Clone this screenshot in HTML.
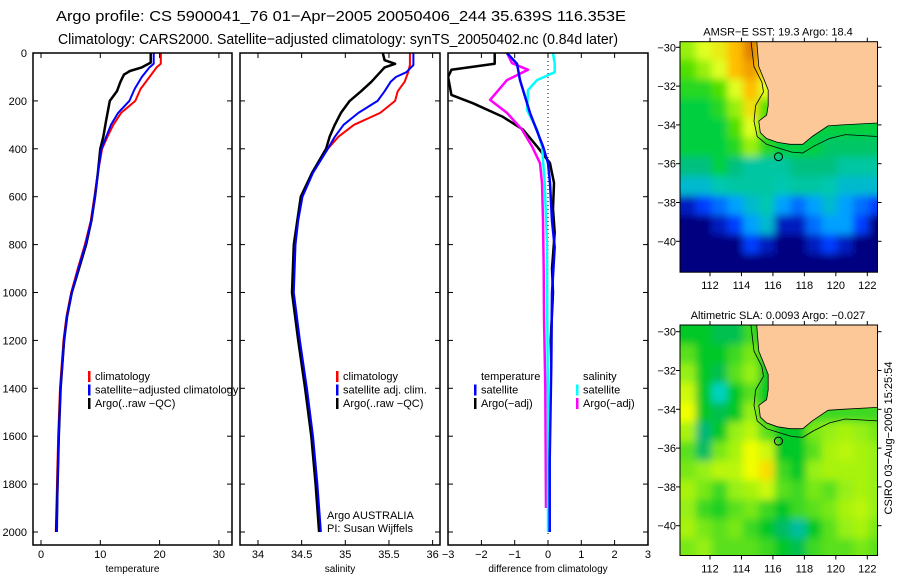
<!DOCTYPE html>
<html><head><meta charset="utf-8"><style>
html,body{margin:0;padding:0;background:#fff;}
svg{display:block;font-family:"Liberation Sans",sans-serif;}
</style></head><body>
<svg id="chart" width="900" height="580" viewBox="0 0 900 580" xmlns="http://www.w3.org/2000/svg">
<defs><filter id="soft" x="-5%" y="-5%" width="110%" height="110%"><feGaussianBlur stdDeviation="4"/></filter></defs>
<text x="56" y="21" font-size="15" textLength="570" lengthAdjust="spacingAndGlyphs">Argo profile: CS 5900041_76 01−Apr−2005 20050406_244 35.639S 116.353E</text>
<text x="58" y="44" font-size="15" textLength="560" lengthAdjust="spacingAndGlyphs">Climatology: CARS2000. Satellite−adjusted climatology: synTS_20050402.nc (0.84d later)</text>
<g id="root"></g>
</svg>
<script>
// ---------- profile data ----------
const tempDepth = [0,45,60,100,150,200,250,300,350,400,500,600,700,800,900,1000,1100,1200,1400,1600,1800,2000];
const tempClim  = [20.2,20.2,19.5,18.3,16.8,15.9,13.5,12.2,11.2,10.3,9.6,9.0,8.4,7.4,6.2,5.1,4.3,3.8,3.2,2.9,2.7,2.5];
const tempSat   = [19.0,19.0,18.3,17.0,15.8,14.9,13.0,11.8,11.0,10.2,9.6,9.1,8.5,7.5,6.3,5.2,4.4,3.9,3.3,3.0,2.8,2.7];
const argoTDepth= [0,40,60,75,90,120,160,200,280,350,400,500,600,700,800,900,1000,1100,1200,1400,1600,1800,2000];
const argoTemp  = [18.5,18.5,17.0,15.0,14.0,13.4,12.8,11.6,11.0,10.5,10.0,9.6,9.1,8.5,7.6,6.4,5.2,4.4,3.9,3.3,3.0,2.8,2.6];
const salDepth  = [0,50,80,100,120,160,200,250,300,350,400,500,600,700,800,1000,1200,1400,1600,1800,2000];
const salClim   = [35.74,35.74,35.72,35.70,35.68,35.60,35.57,35.40,35.10,34.92,34.80,34.62,34.50,34.45,34.42,34.40,34.47,34.55,34.62,34.67,34.71];
const salSat    = [35.78,35.78,35.70,35.58,35.52,35.45,35.37,35.15,34.98,34.88,34.80,34.63,34.51,34.46,34.43,34.41,34.48,34.56,34.63,34.68,34.72];
const argoSDepth= [0,30,45,60,80,120,160,200,250,300,350,400,500,600,800,1000,1200,1400,1600,1800,2000];
const argoSal   = [35.43,35.45,35.57,35.45,35.40,35.30,35.18,35.05,34.95,34.88,34.82,34.78,34.62,34.49,34.41,34.39,34.46,34.54,34.61,34.66,34.70];
// differences
const dTArgoDepth=[0,45,70,100,175,210,267,320,390,460,543,650,750,900,1000,1200,1300];
const dTArgo     =[-1.6,-1.6,-2.9,-3.0,-2.9,-2.25,-1.35,-0.75,-0.33,0.06,0.18,0.15,0.2,0.12,0.15,0.08,0.1];
const dTSatDepth =[0,45,113,250,390,460,543,700,810,1000,1300,1700,2000];
const dTSat      =[-1.23,-0.93,-0.84,-0.54,-0.15,0.0,0.06,0.12,0.2,0.12,0.1,0.05,0.05];
const dSArgoDepth=[0,42,70,113,196,250,320,390,460,543,700,900,1100,1400,1900];
const dSArgo     =[-1.23,-1.08,-0.6,-1.23,-1.74,-1.23,-0.78,-0.48,-0.24,-0.18,-0.15,-0.13,-0.12,-0.08,-0.06];
const dSSatDepth =[0,45,80,113,155,238,320,390,543,800,1100,1500,2000];
const dSSat      =[0.15,0.2,0.2,-0.33,-0.6,-0.63,-0.33,-0.18,-0.1,-0.03,-0.02,0.0,0.0];
const depthTicks=[0,200,400,600,800,1000,1200,1400,1600,1800,2000];
const tempTicks=[0,10,20,30];
const salTicks=[34,34.5,35,35.5,36];
const diffTicks=[-3,-2,-1,0,1,2,3];
// ---------- map data (1-degree cells from lon 110.1, lat -29.65 downward) ----------
const mapLon0=110.1, mapLat0=-29.65;
const sstGrid=[
[20,20.5,20.8,21.5,22.5,21,20,20,20,20,20,20,20],
[19.5,20,20.5,21.5,22,21,20,20,20,20,20,20,20],
[19,19,19.5,20.5,21.5,20.5,20,20,20,20,20,20,20],
[18.5,18.5,19,20,21,19.5,19,19,19,19,19,19,19],
[18.5,18.5,18.5,19.5,20.5,19,18.5,18.5,18.5,18.5,18.5,18.5,18.5],
[18.5,18.5,18.5,19,20,19,18.5,18.5,18.5,18.2,18.2,18.2,18.2],
[18,18,18.5,18,17.5,17.5,17.5,18,18,18,17.5,17.5,17.5],
[17,17,17.3,17.5,17.5,17.5,17.3,17.5,17.5,17.3,17,17,17],
[15,15.5,16,16.5,17,17.3,16.5,16,16.5,17,16.5,16,15.5],
[14.5,14.5,15,15.5,16.5,17,15,15,16,16.5,16.5,15.5,14.5],
[14.5,14.5,14.5,14.5,15.5,15,14.5,14.5,15,15.5,15,14.5,14.5],
[14.5,14.5,14.5,14.5,14.5,14.5,14.5,14.5,14.5,14.5,14.5,14.5,14.5]];
const slaGrid=[
[0,0,-0.02,-0.02,0.02,0,0,0,0,0,0,0,0],
[0.03,0,0,0.02,0.04,0,0,0,0,0,0,0,0],
[0.05,0,-0.02,0.03,0.05,0,0,0,0,0,0,0,0],
[0.08,0,-0.08,0,0.03,0,0,0,0,0,0,0,0],
[0.1,0,-0.02,0,0.05,0,0,0,0.02,0.02,0.02,0.02,0.02],
[0.06,-0.04,0,0.05,0.07,0.03,0,0,0.04,0.05,0.06,0.05,0.04],
[0.03,-0.03,0.04,0.06,0.1,0.08,0,0,0.03,0.06,0.07,0.06,0.05],
[0.04,0.05,0.07,0.07,0.1,0.13,0.02,0,0.05,0.06,0.06,0.06,0.05],
[0.06,0.04,0.02,0.05,0.06,0.08,0.03,0.02,0.04,0.03,0.05,0.06,0.05],
[0.05,0.02,0.01,0.03,0.04,0.02,0,0.02,0.03,0.04,0.06,0.07,0.05],
[0.06,0.04,0.03,0.04,0.02,0,-0.03,-0.06,0,0.03,0.05,0.06,0.04],
[0.04,0.05,0.03,0.03,0.03,0.02,0,-0.02,0.02,0.03,0.03,0.04,0.03]];
const coastLon=[114.97,115.1,115.5,115.7,115.7,115.6,115.1,115.2,115.6,116.3,117.1,117.9,118.5,119.5,120.4,122.65,122.65];
const coastLat=[-29.65,-31,-31.8,-32.2,-33,-33.5,-33.8,-34.4,-34.7,-34.9,-35.0,-35.0,-34.6,-34.05,-34.0,-33.9,-29.65];
const shelfLon=[114.6,114.8,115.3,115.4,114.9,114.8,115.0,115.6,116.4,117.2,117.9,118.6,119.6,120.6,122.65];
const shelfLat=[-29.65,-31,-31.8,-32.3,-33.0,-33.8,-34.6,-35.0,-35.2,-35.4,-35.45,-35.1,-34.7,-34.5,-34.6];
const argoLon=116.353, argoLat=-35.639;
const lonTicks=[112,114,116,118,120,122];
const latTicks=[-30,-32,-34,-36,-38,-40];

const NS='http://www.w3.org/2000/svg';
const root=document.getElementById('root');
function mk(tag,attrs,parent){const e=document.createElementNS(NS,tag);for(const k in attrs)e.setAttribute(k,attrs[k]);(parent||root).appendChild(e);return e;}
function txt(s,x,y,size,anchor,parent){const t=mk('text',{x:x,y:y,'font-size':size,'text-anchor':anchor||'start'},parent);t.textContent=s;return t;}

// profile panels
const yTop=53, yPerM=0.2395;
function yD(d){return yTop+d*yPerM;}
const panels=[
 {name:'temperature-panel',x0:33,x1:232,v0:0,p0:41,scale:5.93,ticks:tempTicks,label:'temperature',tl:['0','10','20','30']},
 {name:'salinity-panel',x0:240,x1:440,v0:34,p0:258,scale:87.3,ticks:salTicks,label:'salinity',tl:['34','34.5','35','35.5','36']},
 {name:'difference-panel',x0:448,x1:648,v0:0,p0:548,scale:33.3,ticks:diffTicks,label:'difference from climatology',tl:['−3','−2','−1','0','1','2','3']}];
const yBot=545;
panels.forEach((p,i)=>{
 const g=mk('g',{});  
 p.g=g; p.xv=v=>p.p0+(v-p.v0)*p.scale;
 const cp=mk('clipPath',{id:'cp'+i},g); mk('rect',{x:p.x0,y:yTop,width:p.x1-p.x0,height:yBot-yTop},cp);
 p.lines=mk('g',{'clip-path':'url(#cp'+i+')'},g);
 const fr=mk('rect',{x:p.x0,y:yTop,width:p.x1-p.x0,height:yBot-yTop,fill:'none',stroke:'#000','stroke-width':1.5},g);
  
 p.ticks.forEach((t,k)=>{const x=p.xv(t);
  mk('line',{x1:x,x2:x,y1:yBot,y2:yBot-5,stroke:'#000'},g); mk('line',{x1:x,x2:x,y1:yTop,y2:yTop+5,stroke:'#000'},g);
  const l=txt(p.tl[k],x,558,11,'middle',g);  });
 depthTicks.forEach(d=>{const y=yD(d);
  mk('line',{x1:p.x0,x2:p.x0+5,y1:y,y2:y,stroke:'#000'},g); mk('line',{x1:p.x1,x2:p.x1-5,y1:y,y2:y,stroke:'#000'},g);
  if(i===0){const l=txt(String(d),27,y+4,11,'end',g);  }});
 const xl=txt(p.label,(p.x0+p.x1)/2,572,10,'middle',g);  
});
function line(p,vals,depths,color,w,name,dash){
 const pts=vals.map((v,k)=>p.xv(v).toFixed(1)+','+yD(depths[k]).toFixed(1)).join(' ');
 const l=mk('polyline',{points:pts,fill:'none',stroke:color,'stroke-width':w,'stroke-linejoin':'round'},p.lines);
 if(dash)l.setAttribute('stroke-dasharray',dash);
  }
line(panels[0],tempClim,tempDepth,'#f00',2,'temp-climatology-line');
line(panels[0],argoTemp,argoTDepth,'#000',2.5,'temp-argo-line');
line(panels[0],tempSat,tempDepth,'#00f',2,'temp-satellite-line');
line(panels[1],salClim,salDepth,'#f00',2,'sal-climatology-line');
line(panels[1],argoSal,argoSDepth,'#000',2.5,'sal-argo-line');
line(panels[1],salSat,salDepth,'#00f',2,'sal-satellite-line');
const zl=mk('line',{x1:panels[2].xv(0),x2:panels[2].xv(0),y1:yTop,y2:yBot-10,stroke:'#000','stroke-dasharray':'1,3'},panels[2].lines);
 
line(panels[2],dTArgo,dTArgoDepth,'#000',2.5,'temp-argo-diff-line');
line(panels[2],dSArgo,dSArgoDepth,'#f0f',2.5,'sal-argo-diff-line');
line(panels[2],dSSat,dSSatDepth,'#0ff',2.5,'sal-satellite-diff-line');
line(panels[2],dTSat,dTSatDepth,'#00f',2.5,'temp-satellite-diff-line');

function legend(parent,x,y,items){
 const g=mk('g',{},parent);  
 items.forEach((it,k)=>{const yy=y+k*13.5;
  const e=mk('g',{},g);  
  if(it[1])mk('rect',{x:x-7,y:yy-9,width:2.5,height:11,fill:it[1]},e);
  txt(it[0],x,yy,11,'start',e);});}
legend(panels[0].g,95,380,[['climatology','#f00'],['satellite−adjusted climatology','#00f'],['Argo(..raw −QC)','#000']]);
legend(panels[1].g,343,380,[['climatology','#f00'],['satellite adj. clim.','#00f'],['Argo(..raw −QC)','#000']]);
legend(panels[2].g,481,380,[['temperature',null],['satellite','#00f'],['Argo(−adj)','#000']]);
legend(panels[2].g,583,380,[['salinity',null],['satellite','#0ff'],['Argo(−adj)','#f0f']]);
const a1=txt('Argo AUSTRALIA',327,519,11,'start',panels[1].g);  
const a2=txt('PI: Susan Wijffels',327,532,11,'start',panels[1].g);  

// maps
const sstStops=[[14.5,[0,0,128]],[15.5,[0,60,255]],[16.5,[0,160,255]],[17.3,[0,200,176]],[18,[0,192,128]],[18.5,[0,208,64]],[19.5,[80,224,0]],[20.5,[224,255,32]],[21.5,[255,190,0]],[22.5,[224,128,0]]];
const slaStops=[[-0.1,[0,230,230]],[-0.05,[0,180,140]],[0,[0,200,40]],[0.05,[150,240,20]],[0.1,[240,255,0]],[0.15,[255,200,0]]];
function cmap(stops,v){if(v<=stops[0][0])return stops[0][1];for(let k=1;k<stops.length;k++){if(v<=stops[k][0]){const a=stops[k-1],b=stops[k],f=(v-a[0])/(b[0]-a[0]);return a[1].map((c,j)=>Math.round(c+(b[1][j]-c)*f));}}return stops[stops.length-1][1];}
function drawMap(name,title,top,grid,stops,latAt30){
 const x0=680,x1=877.5,y0=top,h=230.5,ppd=15.73,ppl=19.4;
 const lx=l=>710+(l-112)*ppd, ly=la=>latAt30+(-30-la)*ppl;
 const g=mk('g',{});  
 const cid='mc'+name; const cp=mk('clipPath',{id:cid},g); mk('rect',{x:x0,y:y0,width:x1-x0,height:h},cp);
 const cg=mk('g',{'clip-path':'url(#'+cid+')'},g);
 const bg=mk('g',{filter:'url(#soft)'},cg);
 const nr=grid.length;
 grid.forEach((row,r)=>row.forEach((v,c)=>{const col=cmap(stops,v);
  let x=lx(mapLon0+c), y=ly(mapLat0-r), w=ppd+0.6, hh=ppl+0.6;
  if(c===0){x-=20;w+=20;} if(c===row.length-1){w+=20;}
  if(r===0){y-=20;hh+=20;} if(r===nr-1){hh+=20;}
  const cell=mk('rect',{x:x.toFixed(1),y:y.toFixed(1),width:w.toFixed(1),height:hh.toFixed(1),fill:'rgb('+col.join(',')+')'},bg);
   }));
 const land=mk('polygon',{points:coastLon.map((l,k)=>lx(l).toFixed(1)+','+ly(coastLat[k]).toFixed(1)).join(' '),fill:'#fcc898',stroke:'#000','stroke-width':0.8},cg);
  
 const sh=mk('polyline',{points:shelfLon.map((l,k)=>lx(l).toFixed(1)+','+ly(shelfLat[k]).toFixed(1)).join(' '),fill:'none',stroke:'#000','stroke-width':0.8},cg);
  
 const c=mk('circle',{cx:lx(argoLon),cy:ly(argoLat),r:4,fill:'none',stroke:'#000','stroke-width':1},cg);
  
 mk('rect',{x:x0,y:y0,width:x1-x0,height:h,fill:'none',stroke:'#000','stroke-width':1},g);
 lonTicks.forEach(l=>{const x=lx(l);mk('line',{x1:x,x2:x,y1:y0,y2:y0-4,stroke:'#000'},g);mk('line',{x1:x,x2:x,y1:y0+h,y2:y0+h+4,stroke:'#000'},g);
  const t=txt(String(l),x,y0+h+17,11,'middle',g);  });
 latTicks.forEach(la=>{const y=ly(la);mk('line',{x1:x0,x2:x0-4,y1:y,y2:y,stroke:'#000'},g);mk('line',{x1:x1,x2:x1+4,y1:y,y2:y,stroke:'#000'},g);
  const t=txt(String(la).replace('-','−'),676,y+4,11,'end',g);  });
 const tt=txt(title,778,y0-6,11,'middle',g);  
}
drawMap('sst-map','AMSR−E SST: 19.3 Argo: 18.4',41.7,sstGrid,sstStops,47.3);
drawMap('sla-map','Altimetric SLA: 0.0093 Argo: −0.027',325,slaGrid,slaStops,331.7);
const cs=txt('CSIRO 03−Aug−2005 15:25:54',0,0,11,'middle');
cs.setAttribute('transform','translate(892,438) rotate(-90)');
 
</script>
</body></html>
